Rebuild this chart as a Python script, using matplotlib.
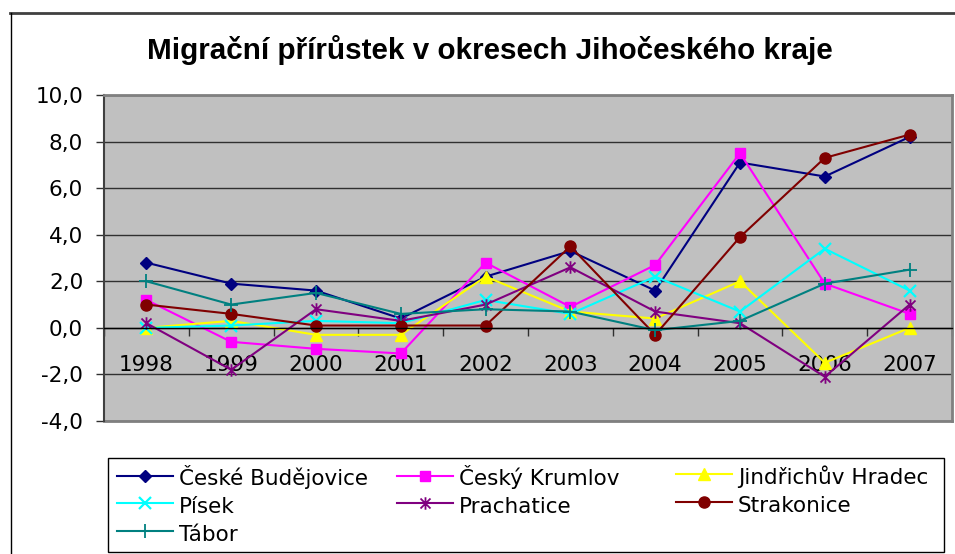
import matplotlib
matplotlib.use("Agg")
import matplotlib.pyplot as plt
from matplotlib.lines import Line2D
from matplotlib.patches import Rectangle
from matplotlib.path import Path

years = ["1998", "1999", "2000", "2001", "2002", "2003", "2004", "2005", "2006", "2007"]

ceske_budejovice = [2.8, 1.9, 1.6, 0.4, 2.2, 3.3, 1.6, 7.1, 6.5, 8.2]
cesky_krumlov = [1.2, -0.6, -0.9, -1.1, 2.8, 0.9, 2.7, 7.5, 1.9, 0.6]
jindrichuv_hradec = [0.0, 0.3, -0.3, -0.3, 2.2, 0.7, 0.4, 2.0, -1.5, 0.0]
pisek = [0.0, 0.1, 0.3, 0.2, 1.2, 0.6, 2.2, 0.7, 3.4, 1.6]
prachatice = [0.2, -1.8, 0.8, 0.3, 1.0, 2.6, 0.7, 0.2, -2.1, 1.0]
strakonice = [1.0, 0.6, 0.1, 0.1, 0.1, 3.5, -0.3, 3.9, 7.3, 8.3]
tabor = [2.0, 1.0, 1.5, 0.6, 0.8, 0.7, -0.1, 0.3, 1.9, 2.5]

y_ticks = [-4, -2, 0, 2, 4, 6, 8, 10]

TITLE = "Migrační přírůstek v okresech Jihočeského kraje"
W, H = 955, 554

# Excel style asterisk: an x with a vertical bar
star = Path(
    [(-1, -1), (1, 1), (-1, 1), (1, -1), (0, -1.25), (0, 1.25)],
    [Path.MOVETO, Path.LINETO, Path.MOVETO, Path.LINETO, Path.MOVETO, Path.LINETO],
)

series = [
    ("České Budějovice", ceske_budejovice, "#000080", dict(marker="D", ms=6.3)),
    ("Český Krumlov", cesky_krumlov, "#FF00FF", dict(marker="s", ms=7.5)),
    ("Jindřichův Hradec", jindrichuv_hradec, "#FFFF00", dict(marker="^", ms=8.5)),
    ("Písek", pisek, "#00FFFF", dict(marker="x", ms=8.5, mew=1.6)),
    ("Prachatice", prachatice, "#800080", dict(marker=star, ms=9, mew=1.3)),
    ("Strakonice", strakonice, "#800000", dict(marker="o", ms=8)),
    ("Tábor", tabor, "#008080", dict(marker="+", ms=9.5, mew=1.3)),
]

plt.rcParams["font.family"] = ["DejaVu Sans"]
FS = 15.5

fig = plt.figure(figsize=(W / 100, H / 100), dpi=100)
fig.patch.set_facecolor("white")


def fx(px):
    return px / W


def fy(py):
    return 1 - py / H


# outer chart border (partly cut off by the crop)
fig.add_artist(Line2D([fx(10), 1.0], [fy(13), fy(13)], color="#404040", lw=2.0))
fig.add_artist(Line2D([fx(10.5), fx(10.5)], [fy(13), 0.0], color="black", lw=1.0))

ax = fig.add_axes([fx(104), fy(421), fx(952 - 104), (421 - 95) / H])
ax.set_facecolor("#C0C0C0")

x = list(range(len(years)))
handles = {}
for name, vals, color, mk in series:
    (ln,) = ax.plot(x, vals, color=color, lw=1.5, label=name, clip_on=False, **mk)
    handles[name] = ln

ax.set_xlim(-0.5, len(years) - 0.5)
ax.set_ylim(-4, 10)
ax.set_yticks(y_ticks)
ax.set_yticklabels([f"{v:.1f}".replace(".", ",") for v in y_ticks])
ax.yaxis.grid(True, color="#303030", lw=1.0)
ax.set_axisbelow(True)

ax.set_xticks(x)
ax.set_xticklabels(years)
ax.set_xticks([i - 0.5 for i in range(len(years) + 1)], minor=True)
ax.tick_params(axis="x", which="major", length=0, pad=19.5, labelsize=FS)
ax.tick_params(axis="x", which="minor", length=6, width=1, color="#303030", direction="out")
ax.tick_params(axis="y", length=6, width=1, color="#303030", pad=9, labelsize=FS)

ax.spines["bottom"].set_position(("data", 0))
ax.spines["bottom"].set_color("black")
ax.spines["bottom"].set_linewidth(1.0)
ax.spines["left"].set_color("#404040")
ax.spines["left"].set_linewidth(1.5)
for s in ("top", "right"):
    ax.spines[s].set_color("#808080")
    ax.spines[s].set_linewidth(2.0)
ax.axhline(-4, color="#808080", lw=2.0, clip_on=False, zorder=1)

fig.text(fx(490), fy(50), TITLE, ha="center", va="center",
         fontsize=21.3, fontweight="bold", family=["Liberation Sans", "DejaVu Sans"])

# legend frame and three columns like Excel's fixed-width legend
fig.add_artist(Rectangle((fx(108), fy(552)), fx(944 - 108), (552 - 458) / H,
                         transform=fig.transFigure, facecolor="white",
                         edgecolor="black", lw=1.0))
columns = [
    (117, ["České Budějovice", "Písek", "Tábor"]),
    (397, ["Český Krumlov", "Prachatice"]),
    (676, ["Jindřichův Hradec", "Strakonice"]),
]
for left, names in columns:
    leg = fig.legend(
        [handles[n] for n in names], names,
        loc="upper left", bbox_to_anchor=(fx(left), fy(465)),
        frameon=False, fontsize=FS, numpoints=1,
        handlelength=2.6, handleheight=1.3, handletextpad=0.28, labelspacing=0.2,
        borderpad=0, borderaxespad=0,
    )
    leg.set_zorder(5)

fig.savefig("out.png", dpi=100)
